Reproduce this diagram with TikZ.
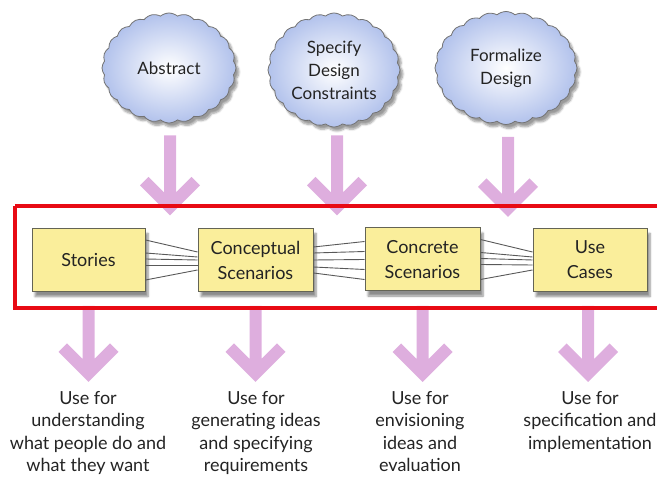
\documentclass[tikz,border=0pt]{standalone}
\usepackage{fontspec}
\setmainfont{Lato}
\usetikzlibrary{shapes.symbols,shadows.blur,calc}
\definecolor{arrowc}{RGB}{222,174,222}
\definecolor{cloudblue}{RGB}{178,194,236}
\definecolor{boxfill}{RGB}{250,238,155}
\definecolor{boxedge}{RGB}{100,100,85}
\definecolor{frame}{RGB}{232,10,20}
\definecolor{txt}{RGB}{35,35,35}
\tikzset{
  cloudnode/.style={cloud, cloud puffs=24, cloud puff arc=80, cloud ignores aspect,
    draw=black!55, line width=0.8pt, inner color=white, outer color=cloudblue,
    minimum width=134pt, minimum height=110pt, align=center, text=txt,
    font=\fontsize{17}{23}\selectfont, inner sep=0pt,
    blur shadow={shadow xshift=3pt, shadow yshift=-4pt, shadow blur steps=6, shadow opacity=40}},
  stagebox/.style={rectangle, draw=boxedge, line width=1pt, fill=boxfill,
    minimum height=63pt, align=center, text=txt, inner sep=2pt,
    font=\fontsize{18}{25}\selectfont,
    blur shadow={shadow xshift=3pt, shadow yshift=-5pt, shadow blur steps=6, shadow opacity=45}},
  link/.style={draw=black!65, line width=0.9pt},
  usetext/.style={align=center, anchor=north, text=txt, font=\fontsize{18}{22.5}\selectfont, inner sep=0pt},
  fatarrow/.pic={\fill[arrowc] (-6,-#1) -- (6,-#1) -- (6,-23) -- (21.5,-38.5) -- (30,-30)
     -- (0,0) -- (-30,-30) -- (-21.5,-38.5) -- (-6,-23) -- cycle;}
}
\begin{document}
\begin{tikzpicture}[x=1pt,y=-1pt]
\useasboundingbox (0,0) rectangle (657,486);
% clouds
\node[cloudnode] (abs) at (169,68) {Abstract};
\node[cloudnode, minimum width=132pt, minimum height=114pt] (spec) at (334,70) {Specify\\Design\\Constraints};
\node[cloudnode, minimum width=142pt, minimum height=113pt] (form) at (506,68) {Formalize\\Design};
% top arrows
\path (abs.south) ++(1,92) coordinate (tA);
\path (spec.south) ++(3,88) coordinate (tB);
\path (form.south) ++(2,92) coordinate (tC);
\pic at (tA) {fatarrow=80};
\pic at (tB) {fatarrow=80};
\pic at (tC) {fatarrow=80};
% boxes
\node[stagebox, minimum width=113pt] (st) at (88.5,260) {Stories};
\node[stagebox, minimum width=115pt] (cs) at (255.5,260) {Conceptual\\Scenarios};
\node[stagebox, minimum width=115pt] (cr) at (422.5,259.5) {Concrete\\Scenarios};
\node[stagebox, minimum width=114pt] (uc) at (590,260) {Use\\Cases};
% connectors
\foreach \a/\b in {-20/-8,-7/-3,-1/0,5/5,20/10}{
  \draw[link] ($(st.east)+(0,\a)$) -- ($(cs.west)+(0,\b)$);
  \draw[link] ($(cr.east)+(0,\a)$) -- ($(uc.west)+(0,\b)$);
}
\foreach \a/\b in {-13/-18,-7/-8,0/0,7/10,13/20}{
  \draw[link] ($(cs.east)+(0,\a)$) -- ($(cr.west)+(0,\b)$);
}
% bottom arrows
\path (st.south) ++(0,90) coordinate (bA);
\path (cs.south) ++(0,90) coordinate (bB);
\path (cr.south) ++(0,90.5) coordinate (bC);
\path (uc.south) ++(-2,90) coordinate (bD);
\pic at (bA) {fatarrow=76};
\pic at (bB) {fatarrow=76};
\pic at (bC) {fatarrow=76};
\pic at (bD) {fatarrow=76};
% red frame
\draw[frame, line width=4pt] (15,206) -- (662,206) (15,206) -- (15,308) -- (662,308);
% texts
\node[usetext] (uA) at (88,391) {Use for\\understanding\\what people do and\\what they want};
\node[usetext] (uB) at (256,391) {Use for\\generating ideas\\and specifying\\requirements};
\node[usetext] (uC) at (420,391) {Use for\\envisioning\\ideas and\\evaluation};
\node[usetext] (uD) at (590,391) {Use for\\specification and\\implementation};
\end{tikzpicture}
\end{document}
